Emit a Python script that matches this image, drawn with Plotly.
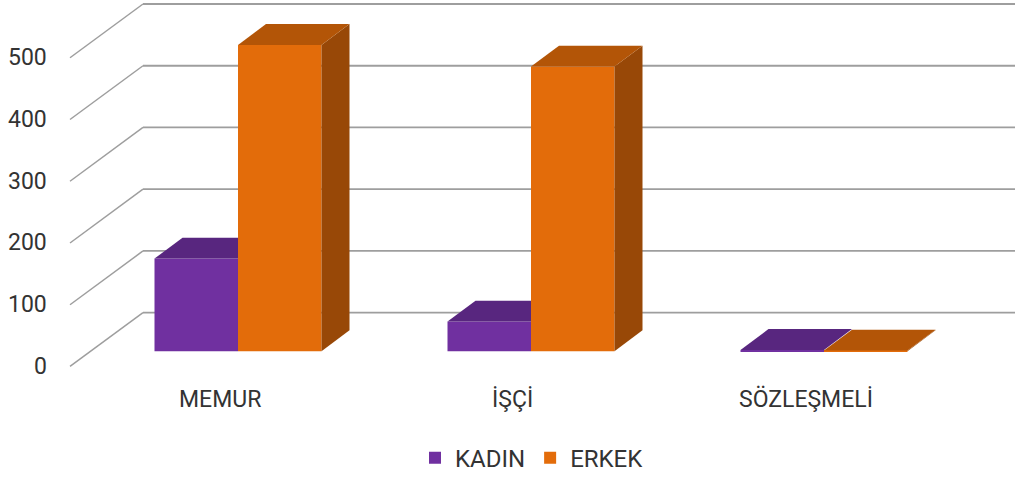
import plotly.graph_objects as go

# ---------------- data ----------------
categories = ["MEMUR", "İŞÇİ", "SÖZLEŞMELİ"]
kadin = [150, 48, 2]
erkek = [496, 461, 1]
tick_values = [0, 100, 200, 300, 400, 500]
series_names = ["KADIN", "ERKEK"]

# ---------------- styling / geometry ----------------
W, H = 1015, 481
PX_CAT = 293.0          # pixels per category
PX_UNIT = 0.62          # pixels per value unit
X0_PX = 238.0           # pixel of category 0 centre
Y0_PX = 352.7           # pixel of value 0 on bars' front plane

def px_to_x(px):
    return (px - X0_PX) / PX_CAT

def py_to_y(py):
    return (Y0_PX - py) / PX_UNIT

def dpx_to_y(dpx):
    return dpx / PX_UNIT

BAR_W = 83.5 / PX_CAT
DDX = 28 / PX_CAT       # bar depth (x)
DDY = dpx_to_y(21)      # bar depth (y)
WALL_FX = px_to_x(70)
WALL_BX = px_to_x(143)
WALL_FY = py_to_y(368)
WALL_BY = py_to_y(314)

PURPLE = "#7030A0"
PURPLE_TOP = "#58267F"
ORANGE = "#E36C0A"
ORANGE_TOP = "#B35507"
ORANGE_SIDE = "#984807"
GRID = "#9E9E9E"
TEXT = "#333333"
FONT = "Roboto"

x_rng = [px_to_x(0), px_to_x(W)]
y_rng = [py_to_y(H), py_to_y(0)]

fig = go.Figure()

xs = list(range(len(categories)))
fig.add_trace(go.Bar(x=xs, y=kadin, name=series_names[0], offset=-BAR_W, width=BAR_W,
                     marker=dict(color=PURPLE, line=dict(width=0))))
fig.add_trace(go.Bar(x=xs, y=erkek, name=series_names[1], offset=0, width=BAR_W,
                     marker=dict(color=ORANGE, line=dict(width=0))))

def poly(px, py, color):
    fig.add_trace(go.Scatter(x=px + [px[0]], y=py + [py[0]], fill="toself", fillcolor=color,
                             mode="lines", line=dict(width=0, color=color),
                             hoverinfo="skip", showlegend=False))

for i in xs:
    vp, vo = kadin[i], erkek[i]
    x0, x1, x2 = i - BAR_W, i, i + BAR_W
    if vo >= vp + DDY:
        poly([x0, x1, x1, x0 + DDX], [vp, vp, vp + DDY, vp + DDY], PURPLE_TOP)
    elif vo <= vp:
        poly([x0, x1, x1 + DDX, x0 + DDX], [vp, vp, vp + DDY, vp + DDY], PURPLE_TOP)
    else:
        t = (vo - vp) / DDY
        poly([x0, x1, x1, x1 + DDX * t, x1 + DDX, x0 + DDX],
             [vp, vp, vo, vo, vp + DDY, vp + DDY], PURPLE_TOP)
    poly([x2, x2, x2 + DDX, x2 + DDX], [0, vo, vo + DDY, DDY], ORANGE_SIDE)
    poly([x1, x2, x2 + DDX, x1 + DDX], [vo, vo, vo + DDY, vo + DDY], ORANGE_TOP)

shapes = []
for v in tick_values:
    shapes.append(dict(type="line", xref="x", yref="y", layer="below",
                       x0=WALL_FX, y0=v + WALL_FY, x1=WALL_BX, y1=v + WALL_BY,
                       line=dict(color=GRID, width=1.5)))
    shapes.append(dict(type="line", xref="x", yref="y", layer="below",
                       x0=WALL_BX, y0=v + WALL_BY, x1=x_rng[1], y1=v + WALL_BY,
                       line=dict(color=GRID, width=1.8)))

annotations = []
for v in tick_values:
    annotations.append(dict(x=px_to_x(49), y=v + WALL_FY, xref="x", yref="y",
                            text=str(v), showarrow=False, xanchor="right", yanchor="middle",
                            font=dict(family=FONT, size=23, color=TEXT)))
for i, c in enumerate(categories):
    annotations.append(dict(x=i - 0.062, y=py_to_y(401), xref="x", yref="y",
                            text=c, showarrow=False, xanchor="center", yanchor="middle",
                            font=dict(family=FONT, size=23, color=TEXT)))

fig.update_layout(
    width=W, height=H,
    margin=dict(l=0, r=0, t=0, b=0),
    paper_bgcolor="white", plot_bgcolor="white",
    barmode="overlay",
    xaxis=dict(range=x_rng, visible=False, fixedrange=True),
    yaxis=dict(range=y_rng, visible=False, fixedrange=True),
    shapes=shapes,
    annotations=annotations,
    showlegend=True,
    legend=dict(orientation="h", x=532 / W, xanchor="center",
                y=1 - 460 / H, yanchor="middle",
                font=dict(family=FONT, size=24, color=TEXT), traceorder="normal",
                bgcolor="rgba(0,0,0,0)", itemclick=False, itemdoubleclick=False),
    hovermode=False,
)

fig.write_html("out.html", config={"displayModeBar": False},
               post_script="document.body.style.margin='0px';document.body.style.overflow='hidden';")
